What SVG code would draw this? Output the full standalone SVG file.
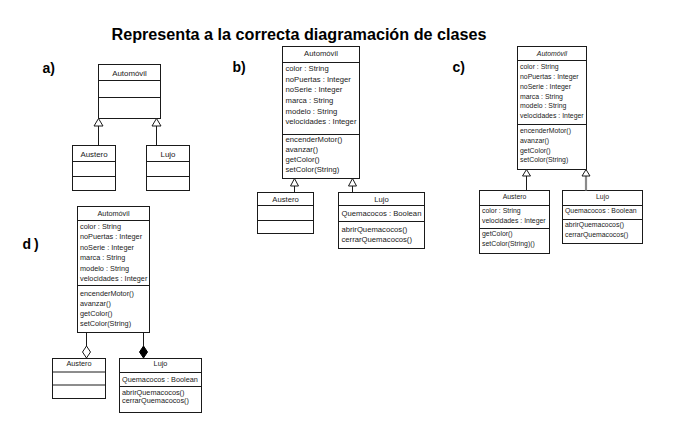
<svg xmlns="http://www.w3.org/2000/svg" width="677" height="428" viewBox="0 0 677 428">
<style>
  rect.box { fill: #ffffff; stroke: #1a1a1a; stroke-width: 1; }
  line.div { stroke: #1a1a1a; stroke-width: 1; }
  text { font-family: "Liberation Sans", Arial, sans-serif; fill: #1a1a1a; }
  .title { font-size: 16px; font-weight: bold; fill: #000; }
  .lbl { font-size: 14px; font-weight: bold; fill: #000; }
  .c { text-anchor: middle; }
  .fa { font-size: 7.9px; }
  .fb { font-size: 7.7px; }
  .fc { font-size: 6.9px; }
  .fd { font-size: 7.3px; }
  .it { font-style: italic; }
  .conn { stroke: #1a1a1a; stroke-width: 1; fill: none; }
  .conn-gray { stroke: #8a8a8a; stroke-width: 2.2; fill: none; }
  .tri { fill: #ffffff; stroke: #1a1a1a; stroke-width: 1; }
  .dia-open { fill: #ffffff; stroke: #1a1a1a; stroke-width: 1; }
  .dia-fill { fill: #000000; stroke: #000000; stroke-width: 1; }
</style>
<rect x="0" y="0" width="677" height="428" fill="#ffffff"/>

<text class="title c" x="299" y="39.5" textLength="375" lengthAdjust="spacingAndGlyphs">Representa a la correcta diagramación de clases</text>
<text class="lbl" x="42.5" y="73">a)</text>
<text class="lbl" x="232.5" y="72">b)</text>
<text class="lbl" x="452.5" y="72">c)</text>
<text class="lbl" x="22.5" y="249">d<tspan dx="3">)</tspan></text>

<!-- Diagram a -->
<g id="a-automovil">
  <rect class="box" x="98.5" y="64.5" width="62" height="54"/>
  <line class="div" x1="98.5" y1="80.5" x2="160.5" y2="80.5"/>
  <line class="div" x1="98.5" y1="97.5" x2="160.5" y2="97.5"/>
  <text class="fa c" x="129.5" y="75.5">Automóvil</text>
</g>
<g id="a-austero">
  <rect class="box" x="72.5" y="145.5" width="43" height="45"/>
  <line class="div" x1="72.5" y1="161.5" x2="115.5" y2="161.5"/>
  <line class="div" x1="72.5" y1="176.5" x2="115.5" y2="176.5"/>
  <text class="fa c" x="94" y="156.5">Austero</text>
</g>
<g id="a-lujo">
  <rect class="box" x="146.5" y="145.5" width="43" height="45"/>
  <line class="div" x1="146.5" y1="161.5" x2="189.5" y2="161.5"/>
  <line class="div" x1="146.5" y1="176.5" x2="189.5" y2="176.5"/>
  <text class="fa c" x="168" y="156.5">Lujo</text>
</g>

<!-- Diagram b -->
<g id="b-automovil">
  <rect class="box" x="282.5" y="46.5" width="77" height="132"/>
  <line class="div" x1="282.5" y1="62.5" x2="359.5" y2="62.5"/>
  <line class="div" x1="282.5" y1="134.5" x2="359.5" y2="134.5"/>
  <text class="fb c" x="321" y="56">Automóvil</text>
  <text class="fb" x="285.5" y="71">color : String</text>
  <text class="fb" x="285.5" y="81.7">noPuertas : Integer</text>
  <text class="fb" x="285.5" y="92.3">noSerie : Integer</text>
  <text class="fb" x="285.5" y="103">marca : String</text>
  <text class="fb" x="285.5" y="113.6">modelo : String</text>
  <text class="fb" x="285.5" y="124.3">velocidades : Integer</text>
  <text class="fb" x="285.5" y="141.5">encenderMotor()</text>
  <text class="fb" x="285.5" y="151.5">avanzar()</text>
  <text class="fb" x="285.5" y="161.5">getColor()</text>
  <text class="fb" x="285.5" y="171.5">setColor(String)</text>
</g>
<g id="b-austero">
  <rect class="box" x="257.5" y="192.5" width="56" height="41"/>
  <line class="div" x1="257.5" y1="205.5" x2="313.5" y2="205.5"/>
  <line class="div" x1="257.5" y1="220.5" x2="313.5" y2="220.5"/>
  <text class="fb c" x="285.5" y="201.5">Austero</text>
</g>
<g id="b-lujo">
  <rect class="box" x="338.5" y="192.5" width="86" height="56"/>
  <line class="div" x1="338.5" y1="205.5" x2="424.5" y2="205.5"/>
  <line class="div" x1="338.5" y1="221.5" x2="424.5" y2="221.5"/>
  <text class="fb c" x="381.5" y="201.5">Lujo</text>
  <text class="fb" x="341.5" y="216">Quemacocos : Boolean</text>
  <text class="fb" x="341.5" y="231.5">abrirQuemacocos()</text>
  <text class="fb" x="341.5" y="241.5">cerrarQuemacocos()</text>
</g>

<!-- Diagram c -->
<g id="c-automovil">
  <rect class="box" x="517.5" y="46.5" width="69" height="123"/>
  <line class="div" x1="517.5" y1="60.5" x2="586.5" y2="60.5"/>
  <line class="div" x1="517.5" y1="124.5" x2="586.5" y2="124.5"/>
  <text class="fc c it" x="552" y="56">Automóvil</text>
  <text class="fc" x="520" y="69.3">color : String</text>
  <text class="fc" x="520" y="79">noPuertas : Integer</text>
  <text class="fc" x="520" y="88.8">noSerie : Integer</text>
  <text class="fc" x="520" y="98.6">marca : String</text>
  <text class="fc" x="520" y="108.4">modelo : String</text>
  <text class="fc" x="520" y="118.2">velocidades : Integer</text>
  <text class="fc" x="520" y="132.5">encenderMotor()</text>
  <text class="fc" x="520" y="142.5">avanzar()</text>
  <text class="fc" x="520" y="152.5">getColor()</text>
  <text class="fc" x="520" y="162.3">setColor(String)</text>
</g>
<g id="c-austero">
  <rect class="box" x="479.5" y="190.5" width="70" height="63"/>
  <line class="div" x1="479.5" y1="205.5" x2="549.5" y2="205.5"/>
  <line class="div" x1="479.5" y1="228.5" x2="549.5" y2="228.5"/>
  <text class="fc c" x="514.5" y="199">Austero</text>
  <text class="fc" x="482" y="213.3">color : String</text>
  <text class="fc" x="482" y="222.8">velocidades : Integer</text>
  <text class="fc" x="482" y="236">getColor()</text>
  <text class="fc" x="482" y="245.5">setColor(String)()</text>
</g>
<g id="c-lujo">
  <rect class="box" x="562.5" y="190.5" width="80" height="53"/>
  <line class="div" x1="562.5" y1="205.5" x2="642.5" y2="205.5"/>
  <line class="div" x1="562.5" y1="219.5" x2="642.5" y2="219.5"/>
  <text class="fc c" x="602.5" y="199">Lujo</text>
  <text class="fc" x="565" y="213.3">Quemacocos : Boolean</text>
  <text class="fc" x="565" y="227">abrirQuemacocos()</text>
  <text class="fc" x="565" y="236.5">cerrarQuemacocos()</text>
</g>

<!-- Diagram d -->
<g id="d-automovil">
  <rect class="box" x="77.5" y="206.5" width="72" height="126"/>
  <line class="div" x1="77.5" y1="220.5" x2="149.5" y2="220.5"/>
  <line class="div" x1="77.5" y1="285.5" x2="149.5" y2="285.5"/>
  <text class="fd c" x="113.5" y="216">Automóvil</text>
  <text class="fd" x="80" y="228.7">color : String</text>
  <text class="fd" x="80" y="239.3">noPuertas : Integer</text>
  <text class="fd" x="80" y="250">noSerie : Integer</text>
  <text class="fd" x="80" y="260.4">marca : String</text>
  <text class="fd" x="80" y="270.7">modelo : String</text>
  <text class="fd" x="80" y="281">velocidades : Integer</text>
  <text class="fd" x="80" y="296">encenderMotor()</text>
  <text class="fd" x="80" y="306">avanzar()</text>
  <text class="fd" x="80" y="316">getColor()</text>
  <text class="fd" x="80" y="326">setColor(String)</text>
</g>
<g id="d-austero">
  <rect class="box" x="52.5" y="358.5" width="53" height="40"/>
  <line class="div" x1="52.5" y1="372" x2="105.5" y2="372"/>
  <line class="div" x1="52.5" y1="385" x2="105.5" y2="385"/>
  <text class="fd c" x="79" y="366">Austero</text>
</g>
<g id="d-lujo">
  <rect class="box" x="119.5" y="358.5" width="82" height="54"/>
  <line class="div" x1="119.5" y1="372.5" x2="201.5" y2="372.5"/>
  <line class="div" x1="119.5" y1="386.5" x2="201.5" y2="386.5"/>
  <text class="fd c" x="160.5" y="366">Lujo</text>
  <text class="fd" x="122" y="381.5">Quemacocos : Boolean</text>
  <text class="fd" x="122" y="395.3">abrirQuemacocos()</text>
  <text class="fd" x="122" y="403.3">cerrarQuemacocos()</text>
</g>

<!-- Connectors -->
<g id="connectors">
  <!-- a -->
  <line class="conn" x1="98.5" y1="126" x2="98.5" y2="145.5"/>
  <polygon class="tri" points="98.5,118.5 94,126 103,126"/>
  <line class="conn" x1="156.5" y1="126" x2="156.5" y2="145.5"/>
  <polygon class="tri" points="156.5,118.5 152,126 161,126"/>
  <!-- b -->
  <line class="conn" x1="294.5" y1="186" x2="294.5" y2="192.5"/>
  <polygon class="tri" points="294.5,178.5 290.5,186 298.5,186"/>
  <line class="conn" x1="352.5" y1="186" x2="352.5" y2="192.5"/>
  <polygon class="tri" points="352.5,178.5 348.5,186 356.5,186"/>
  <!-- c -->
  <line class="conn" x1="526.5" y1="176" x2="526.5" y2="190.5"/>
  <polygon class="tri" points="526.5,169.5 522.5,176 530.5,176"/>
  <line class="conn-gray" x1="586" y1="176" x2="586" y2="190.5"/>
  <polygon class="tri" points="586,169.5 582,176 590,176"/>
  <!-- d -->
  <line class="conn" x1="86.5" y1="332.5" x2="86.5" y2="346"/>
  <polygon class="dia-open" points="86.5,346 90.5,352 86.5,358 82.5,352"/>
  <line class="conn" x1="143.5" y1="332.5" x2="143.5" y2="346"/>
  <polygon class="dia-fill" points="143.5,346 147.5,352 143.5,358 139.5,352"/>
</g>
</svg>
